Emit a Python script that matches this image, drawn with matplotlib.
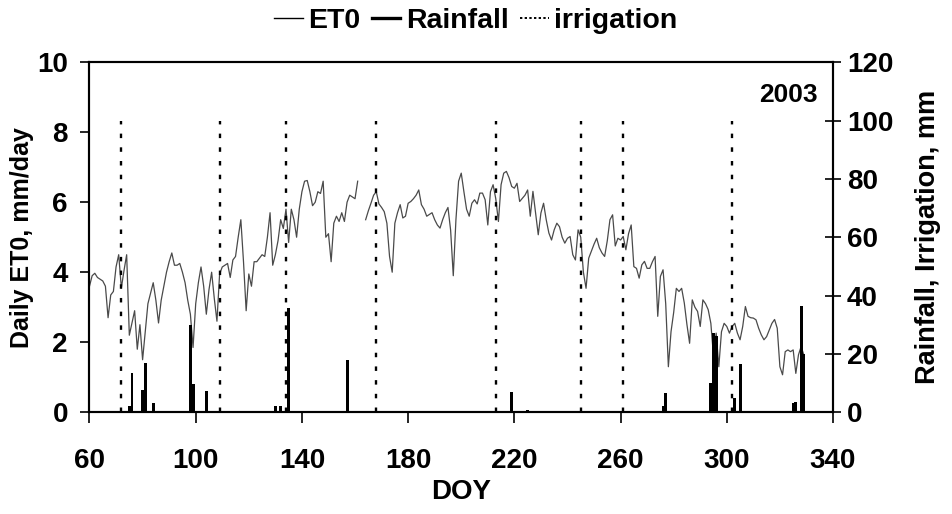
import numpy as np
import matplotlib
matplotlib.use("Agg")
import matplotlib.pyplot as plt
from matplotlib.lines import Line2D

plt.rcParams["font.family"] = ["Liberation Sans", "DejaVu Sans"]
plt.rcParams["font.weight"] = "bold"

# daily reference evapotranspiration, DOY 60..329 (gap at 162-163)
et0_start = 60
et0_values = [
    3.6, 3.9, 3.97, 3.85, 3.8, 3.75, 3.6, 2.7, 3.35, 3.45,            # 60-69
    4.15, 4.5, 3.55, 4.05, 4.5, 2.2, 2.55, 2.9, 1.8, 2.5,             # 70-79
    1.5, 2.3, 3.1, 3.4, 3.7, 3.2, 2.55, 3.2, 3.6, 4.0,                # 80-89
    4.3, 4.55, 4.2, 4.2, 4.25, 4.0, 3.7, 3.2, 2.8, 1.85,              # 90-99
    3.1, 3.7, 4.15, 3.6, 2.8, 3.5, 4.0, 3.25, 2.6, 3.95,              # 100-109
    4.15, 4.2, 4.25, 3.85, 4.35, 4.45, 5.0, 5.5, 4.3, 2.9,            # 110-119
    3.95, 3.6, 4.3, 4.3, 4.4, 4.5, 4.45, 5.0, 5.7, 4.2,               # 120-129
    4.5, 4.9, 5.5, 5.25, 5.8, 4.85, 5.8, 5.5, 5.0, 5.8,               # 130-139
    6.3, 6.6, 6.62, 6.3, 5.9, 6.0, 6.3, 6.25, 6.6, 5.0,               # 140-149
    5.1, 4.3, 5.4, 5.6, 5.45, 5.7, 5.45, 6.0, 6.2, 6.15,              # 150-159
    6.1, 6.6, np.nan, np.nan, 5.5, 5.75, 5.97, 6.2, 6.3, 5.95,        # 160-169
    5.85, 5.73, 5.4, 4.45, 4.0, 5.4, 5.7, 5.93, 5.55, 5.6,            # 170-179
    5.97, 6.02, 6.1, 6.2, 6.35, 5.93, 5.8, 5.6, 5.65, 5.7,            # 180-189
    5.5, 5.35, 5.26, 5.5, 5.7, 5.85, 5.2, 3.9, 5.5, 6.6,              # 190-199
    6.83, 6.3, 5.8, 5.6, 5.97, 6.07, 5.95, 6.26, 6.26, 6.07,          # 200-209
    5.35, 6.3, 6.5, 6.1, 5.45, 6.5, 6.83, 6.88, 6.7, 6.45,            # 210-219
    6.4, 6.54, 6.02, 6.11, 6.2, 6.35, 5.6, 6.31, 5.7, 5.07,           # 220-229
    5.69, 5.97, 5.5, 5.12, 4.92, 5.21, 5.4, 5.3, 5.0, 4.83,           # 230-239
    4.97, 5.02, 4.5, 4.35, 5.21, 5.0, 4.0, 3.54, 4.4, 4.6,            # 240-249
    4.8, 4.97, 4.7, 4.55, 4.45, 4.9, 5.5, 5.64, 4.75, 4.97,           # 250-259
    4.92, 5.02, 4.64, 5.1, 5.35, 4.16, 4.11, 3.83, 4.21, 4.31,        # 260-269
    4.11, 4.11, 4.3, 4.45, 2.74, 3.88, 4.07, 3.1, 1.3, 2.3,           # 270-279
    2.85, 3.54, 3.45, 3.54, 3.12, 2.5, 1.97, 3.21, 3.0, 2.88,         # 280-289
    2.45, 3.21, 3.1, 2.93, 2.54, 1.59, 2.26, 1.3, 2.3, 2.54,          # 290-299
    2.45, 2.26, 2.45, 2.54, 2.26, 2.07, 2.45, 3.02, 2.74, 2.7,        # 300-309
    2.69, 2.64, 2.4, 2.21, 2.07, 2.16, 2.35, 2.54, 2.65, 2.4,         # 310-319
    1.3, 1.07, 1.73, 1.78, 1.73, 1.78, 1.11, 1.64, 1.88, 1.64,        # 320-329
]
et0_doy = np.arange(et0_start, et0_start + len(et0_values))

rain_doy = [75, 76, 80, 81, 84, 98, 99, 104, 130, 132, 135, 157, 219, 225,
            276, 277, 294, 295, 296, 303, 305, 325, 326, 328, 329]
rain_mm = [2, 13.4, 7.6, 16.8, 3.3, 29.8, 9.7, 7.3, 2, 2, 35.7, 17.9, 6.9, 0.6,
           2, 6.5, 10, 27, 26, 5, 16.5, 3, 3.5, 36.4, 20]

irrig_doy = [72, 109, 134, 168, 213, 245, 261, 302]
irrig_mm = [100, 100, 100, 100, 100, 100, 100, 100]

fig = plt.figure(figsize=(9.52, 5.14), dpi=100)
ax = fig.add_axes([0.094, 0.198, 0.781, 0.681])
ax2 = ax.twinx()

ax.plot(et0_doy, et0_values, color="#4a4a4a", lw=0.9)
ax2.bar(rain_doy, rain_mm, width=1.1, color="black")
ax2.vlines(irrig_doy, 0, irrig_mm, colors="black", lw=1.7,
           linestyles=(0, (1.9, 3.9)))

ax.set_xlim(60, 340)
ax.set_ylim(0, 10)
ax2.set_ylim(0, 120)
ax.set_xticks(range(60, 341, 40))
ax.set_yticks(range(0, 11, 2))
ax2.set_yticks(range(0, 121, 20))

fs = 20
ax.tick_params(axis="x", labelsize=fs, direction="out", length=8, width=1.2, pad=18)
ax.tick_params(axis="y", labelsize=fs, direction="out", length=6.5, width=1.2, pad=9)
ax2.tick_params(axis="y", labelsize=fs, direction="inout", length=12, width=1.2, pad=4)
for lab in ax.get_xticklabels() + ax.get_yticklabels() + ax2.get_yticklabels():
    lab.set_fontweight("bold")
for sp in ax.spines.values():
    sp.set_linewidth(1.5)
for sp in ax2.spines.values():
    sp.set_linewidth(1.5)

ax.set_xlabel("DOY", fontsize=fs, fontweight="bold", labelpad=3)
ax.set_ylabel("Daily ET0, mm/day", fontsize=18, fontweight="bold", labelpad=2)
ax2.set_ylabel("Rainfall, Irrigation, mm", fontsize=19.5, fontweight="bold", labelpad=16)

ax.text(0.98, 0.906, "2003", transform=ax.transAxes, ha="right", va="center",
        fontsize=19, fontweight="bold")

handles = [
    Line2D([], [], color="black", lw=1.0),
    Line2D([], [], color="black", lw=2.4),
    Line2D([], [], color="black", lw=1.4, linestyle=(0, (1.2, 1.2))),
]
fig.legend(handles, ["ET0", "Rainfall", "irrigation"], loc="upper center",
           bbox_to_anchor=(0.5, 1.035), ncol=3, frameon=False,
           prop={"size": 20.5, "weight": "bold"}, handlelength=1.0,
           handletextpad=0.2, columnspacing=0.4)

fig.savefig("out.png", dpi=100)
